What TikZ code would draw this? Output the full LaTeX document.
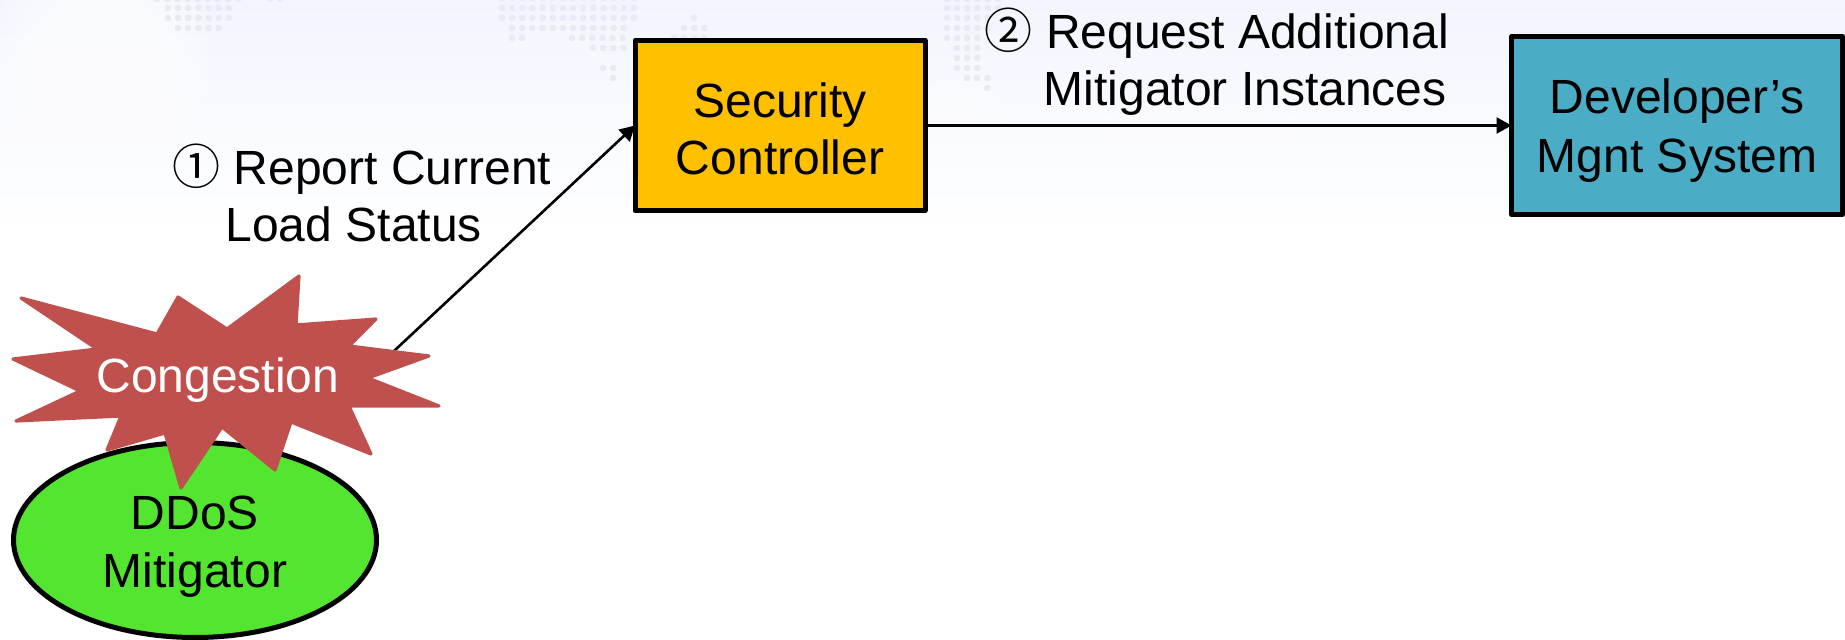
\documentclass[tikz,border=0pt]{standalone}
\usepackage{fontspec}
\setmainfont{Liberation Sans}
\newfontfamily\cjkglyph{Noto Sans CJK SC}
\usetikzlibrary{arrows.meta,shapes.geometric}
\definecolor{bgtop}{HTML}{F2F5FE}
\definecolor{bgmid}{HTML}{F8FAFF}
\definecolor{bgdot}{HTML}{E8EBF3}
\definecolor{boxorange}{HTML}{FFC000}
\definecolor{boxteal}{HTML}{4BACC6}
\definecolor{starred}{HTML}{C0504D}
\definecolor{ellgreen}{HTML}{54E530}
\newcommand{\bgdotrow}[3]{% y, first x, count-1
  \foreach \k in {0,...,#3}{\fill[bgdot,rounded corners=1pt] ({#2+10.15*\k-3},{#1-3}) rectangle ({#2+10.15*\k+3},{#1+3});}}
\tikzset{
  txt/.style={font=\fontsize{24}{28.5}\selectfont,inner sep=0pt,outer sep=0pt},
  boxnode/.style={txt,draw=black,line width=2.5pt,align=center,outer sep=0pt,line join=round},
  link/.style={draw=black,line width=1.3pt,-{Triangle[length=7.5pt,width=8pt]}},
  cloud/.style={fill=white,opacity=.22}
}
\begin{document}
\begin{tikzpicture}[x=0.5pt,y=-0.5pt]
\useasboundingbox (0,0) rectangle (1845,640);
% background
\shade[top color=bgtop,bottom color=white,middle color=bgmid] (0,0) rectangle (1845,230);
\foreach \rx/\ry in {110/125,100/110,90/95,75/80,60/60}{\fill[cloud] (100,65) ellipse ({\rx} and {\ry});}
\foreach \rx/\ry in {70/50,50/35,30/25}{\fill[cloud] (50,170) ellipse ({\rx} and {\ry});}
\foreach \rx/\ry in {60/30,45/22,30/15}{\fill[cloud] (950,110) ellipse ({\rx} and {\ry});}
\foreach \rx/\ry in {220/60,170/45,120/30}{\fill[cloud] (1200,170) ellipse ({\rx} and {\ry});}
% map dots
\bgdotrow{-1}{157}{8}\bgdotrow{-1}{270}{1}
\bgdotrow{8}{168}{6}\bgdotrow{18}{168}{6}\bgdotrow{28}{178}{4}
\bgdotrow{-2}{502}{13}\bgdotrow{8}{502}{13}\bgdotrow{18}{502}{13}
\bgdotrow{28}{512}{11}\bgdotrow{38}{512}{1}\bgdotrow{38}{572}{5}
\bgdotrow{48}{593}{3}\bgdotrow{68}{603}{1}\bgdotrow{78}{613}{0}
\bgdotrow{18}{694}{0}\bgdotrow{28}{684}{2}\bgdotrow{38}{674}{3}
\bgdotrow{-1}{947}{5}\bgdotrow{8}{947}{5}\bgdotrow{18}{947}{4}\bgdotrow{28}{947}{4}
\bgdotrow{38}{947}{3}\bgdotrow{48}{957}{2}\bgdotrow{58}{957}{2}\bgdotrow{68}{957}{2}
\bgdotrow{78}{967}{2}\bgdotrow{88}{987}{0}
% nodes
\node[boxnode,ellipse,fill=ellgreen,minimum width=181.5pt,minimum height=97.5pt] (mit) at (195,540) {\rule{0pt}{23pt}DDoS\\[0.5pt]Mitigator};
\node[boxnode,rectangle,fill=boxorange,minimum width=145pt,minimum height=85pt] (sec) at (780,125.5) {\rule{0pt}{20.8pt}Security\\Controller};
\node[boxnode,rectangle,fill=boxteal,minimum width=165.5pt,minimum height=89pt] (dev) at (1677,125.5) {\rule{0pt}{22.5pt}Developer’s\\[1pt]Mgnt System};
\coordinate (starout) at (378,366);
% connectors
\draw[link] (starout) -- (sec.west);
\draw[link] (sec.east) -- (dev.west);
% star
\fill[starred,draw=starred,line width=1.6pt,line join=round]
 (21,298) -- (157,334) -- (178,297) -- (227,329) -- (299,276) -- (296,325) -- (376,319) -- (349,346)
 -- (429,356) -- (368,378) -- (439,406) -- (349,406) -- (371,454) -- (291,422) -- (275,470)
 -- (222,427) -- (181,488) -- (165,433) -- (107,450) -- (121,416) -- (16,421) -- (80,391)
 -- (13,359) -- (97,349) -- cycle;
\node[txt,text=white,anchor=base] (cong) at (218,393) {Congestion};
% labels
\node[txt,align=left,anchor=center] (lab1) at (362,192.5) {{\cjkglyph ①} Report Current\\\hspace*{26.5pt}Load Status};
\node[txt,align=right,anchor=center] (lab2) at (1217,62) {{\cjkglyph ②} Request Additional\\Mitigator Instances\rule{1.2pt}{0pt}};
\end{tikzpicture}
\end{document}
